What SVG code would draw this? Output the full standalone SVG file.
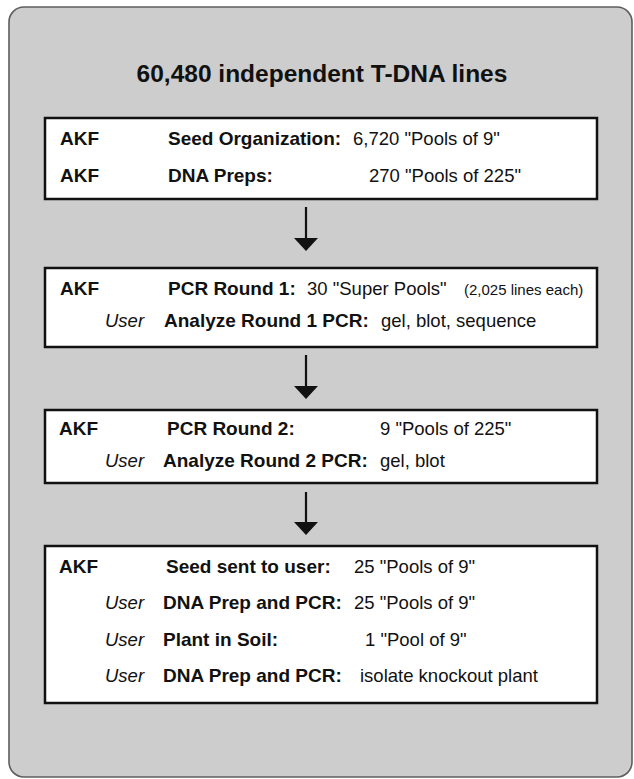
<svg xmlns="http://www.w3.org/2000/svg" width="634" height="779" viewBox="0 0 634 779">
<style>
.panel{fill:#cdcdcd;stroke:#5e5e5e;stroke-width:1.6}
.box{fill:#ffffff;stroke:#111;stroke-width:2.5}
text{font-family:"Liberation Sans",Arial,Helvetica,sans-serif;fill:#111;font-size:18.5px}
.b{font-weight:bold;font-size:19px}
.i{font-style:italic}
.title{font-weight:bold;font-size:24.5px}
.sm{font-size:15px}
.conn line{stroke:#111;stroke-width:2.2}
</style>
<defs>
<marker id="ah" viewBox="0 0 13 24" refX="3" refY="12" markerWidth="13" markerHeight="24" markerUnits="userSpaceOnUse" orient="auto">
<path d="M0,0 L13,12 L0,24 Z" fill="#111"/>
</marker>
</defs>
<rect class="panel" x="9" y="7" width="623" height="770" rx="15" ry="15"/>
<text class="title" x="322" y="82" text-anchor="middle">60,480 independent T-DNA lines</text>

<g id="connectors" class="conn">
<line x1="306" y1="207" x2="306" y2="241" marker-end="url(#ah)"/>
<line x1="306" y1="355" x2="306" y2="389" marker-end="url(#ah)"/>
<line x1="306" y1="492" x2="306" y2="525" marker-end="url(#ah)"/>
</g>

<g id="box1">
<rect class="box" x="45" y="118" width="552" height="81"/>
<text class="b" x="60" y="145">AKF</text>
<text class="b" x="168" y="145">Seed Organization:</text>
<text x="353" y="145">6,720 "Pools of 9"</text>
<text class="b" x="60" y="182">AKF</text>
<text class="b" x="168" y="182">DNA Preps:</text>
<text x="369" y="182">270 "Pools of 225"</text>
</g>

<g id="box2">
<rect class="box" x="45" y="268" width="552" height="79"/>
<text class="b" x="60" y="295">AKF</text>
<text class="b" x="168" y="295">PCR Round 1:</text>
<text x="307" y="295">30 "Super Pools"</text>
<text class="sm" x="464" y="295">(2,025 lines each)</text>
<text class="i" x="105" y="327">User</text>
<text class="b" x="164" y="327">Analyze Round 1 PCR:</text>
<text x="381" y="327">gel, blot, sequence</text>
</g>

<g id="box3">
<rect class="box" x="45" y="410" width="552" height="73"/>
<text class="b" x="59" y="435">AKF</text>
<text class="b" x="167" y="435">PCR Round 2:</text>
<text x="380" y="435">9 "Pools of 225"</text>
<text class="i" x="105" y="467">User</text>
<text class="b" x="163" y="467">Analyze Round 2 PCR:</text>
<text x="380" y="467">gel, blot</text>
</g>

<g id="box4">
<rect class="box" x="45" y="546" width="552" height="157"/>
<text class="b" x="59" y="573">AKF</text>
<text class="b" x="166" y="573">Seed sent to user:</text>
<text x="354" y="573">25 "Pools of 9"</text>
<text class="i" x="105" y="609">User</text>
<text class="b" x="163" y="609">DNA Prep and PCR:</text>
<text x="354" y="609">25 "Pools of 9"</text>
<text class="i" x="105" y="646">User</text>
<text class="b" x="163" y="646">Plant in Soil:</text>
<text x="365" y="646">1 "Pool of 9"</text>
<text class="i" x="105" y="682">User</text>
<text class="b" x="163" y="682">DNA Prep and PCR:</text>
<text x="360" y="682">isolate knockout plant</text>
</g>
</svg>
